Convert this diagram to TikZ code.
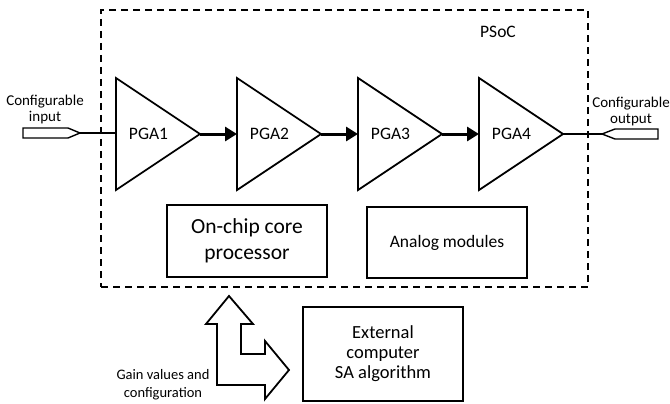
\documentclass[tikz,border=0pt]{standalone}
\usepackage{fontspec}
\setmainfont{Carlito}
\usetikzlibrary{arrows.meta,positioning}
\tikzset{
    amp/.style={line width=1.8pt, line join=miter},
    blk/.style={draw, line width=1.8pt, align=center, inner sep=0pt, minimum width=160pt},
    link/.style={line width=3pt, -{Triangle[length=12pt,width=14pt]}},
    port/.style={line width=1.4pt},
    lbl/.style={font=\fontsize{15}{16}\selectfont, align=center}
}

\begin{document}
\begin{tikzpicture}[x=1pt,y=-1pt]
    \useasboundingbox (0,0) rectangle (670,404);
    \node[draw, line width=1.8pt, dash pattern=on 7pt off 5pt, inner sep=0pt,
          minimum width=487pt, minimum height=277pt] (psoc) at (344.5,148.5) {};
    \node[font=\fontsize{17.5}{20}\selectfont] (psoclbl) at (498,32) {PSoC};

    \foreach \i/\x in {1/116,2/237,3/358,4/479} {
        \draw[amp] (\x,78) -- (\x+84,134) -- (\x,190) -- cycle;
        \coordinate (in\i) at (\x,134);
        \coordinate (out\i) at (\x+84,134);
        \node[font=\fontsize{17.5}{20}\selectfont] (pga\i) at (\x+32.5,134) {PGA\i};
    }
    \draw[link] (out1) -- (in2);
    \draw[link] (out2) -- (in3);
    \draw[link] (out3) -- (in4);

    \draw[port] (23,128) -- (68,128) -- (80,133) -- (68,138) -- (23,138) -- cycle;
    \coordinate (inport) at (80,133);
    \draw[port] (inport) -- (inport -| in1);
    \node[lbl] (inlbl) at (45,110) {Configurable\\input};

    \coordinate (outport) at (602,134);
    \draw[port] (outport) -- (615,129) -- (658,129) -- (658,139) -- (615,139) -- cycle;
    \draw[port] (out4) -- (outport);
    \node[lbl] (outlbl) at (631,112) {Configurable\\output};

    \node[blk, minimum height=72pt, font=\fontsize{21.5}{26}\selectfont] (cpu) at (247,241) {On-chip core\\processor};
    \node[blk, minimum height=71pt, font=\fontsize{17.5}{20}\selectfont] (analog) at (447,242.5) {\raisebox{-4pt}{Analog modules}};
    \node[blk, minimum height=94pt, font=\fontsize{18.5}{20}\selectfont] (ext) at (383,354) {External\\computer\\SA algorithm};

    \draw[amp] (229,296) -- (253,324) -- (241,324) -- (241,354) -- (265,354) -- (265,341)
        -- (289,370) -- (265,399) -- (265,385) -- (217,385) -- (217,324) -- (206,324) -- cycle;
    \node[lbl, font=\fontsize{14.5}{18}\selectfont] (gainlbl) at (163,385) {Gain values and\\configuration};
\end{tikzpicture}
\end{document}
